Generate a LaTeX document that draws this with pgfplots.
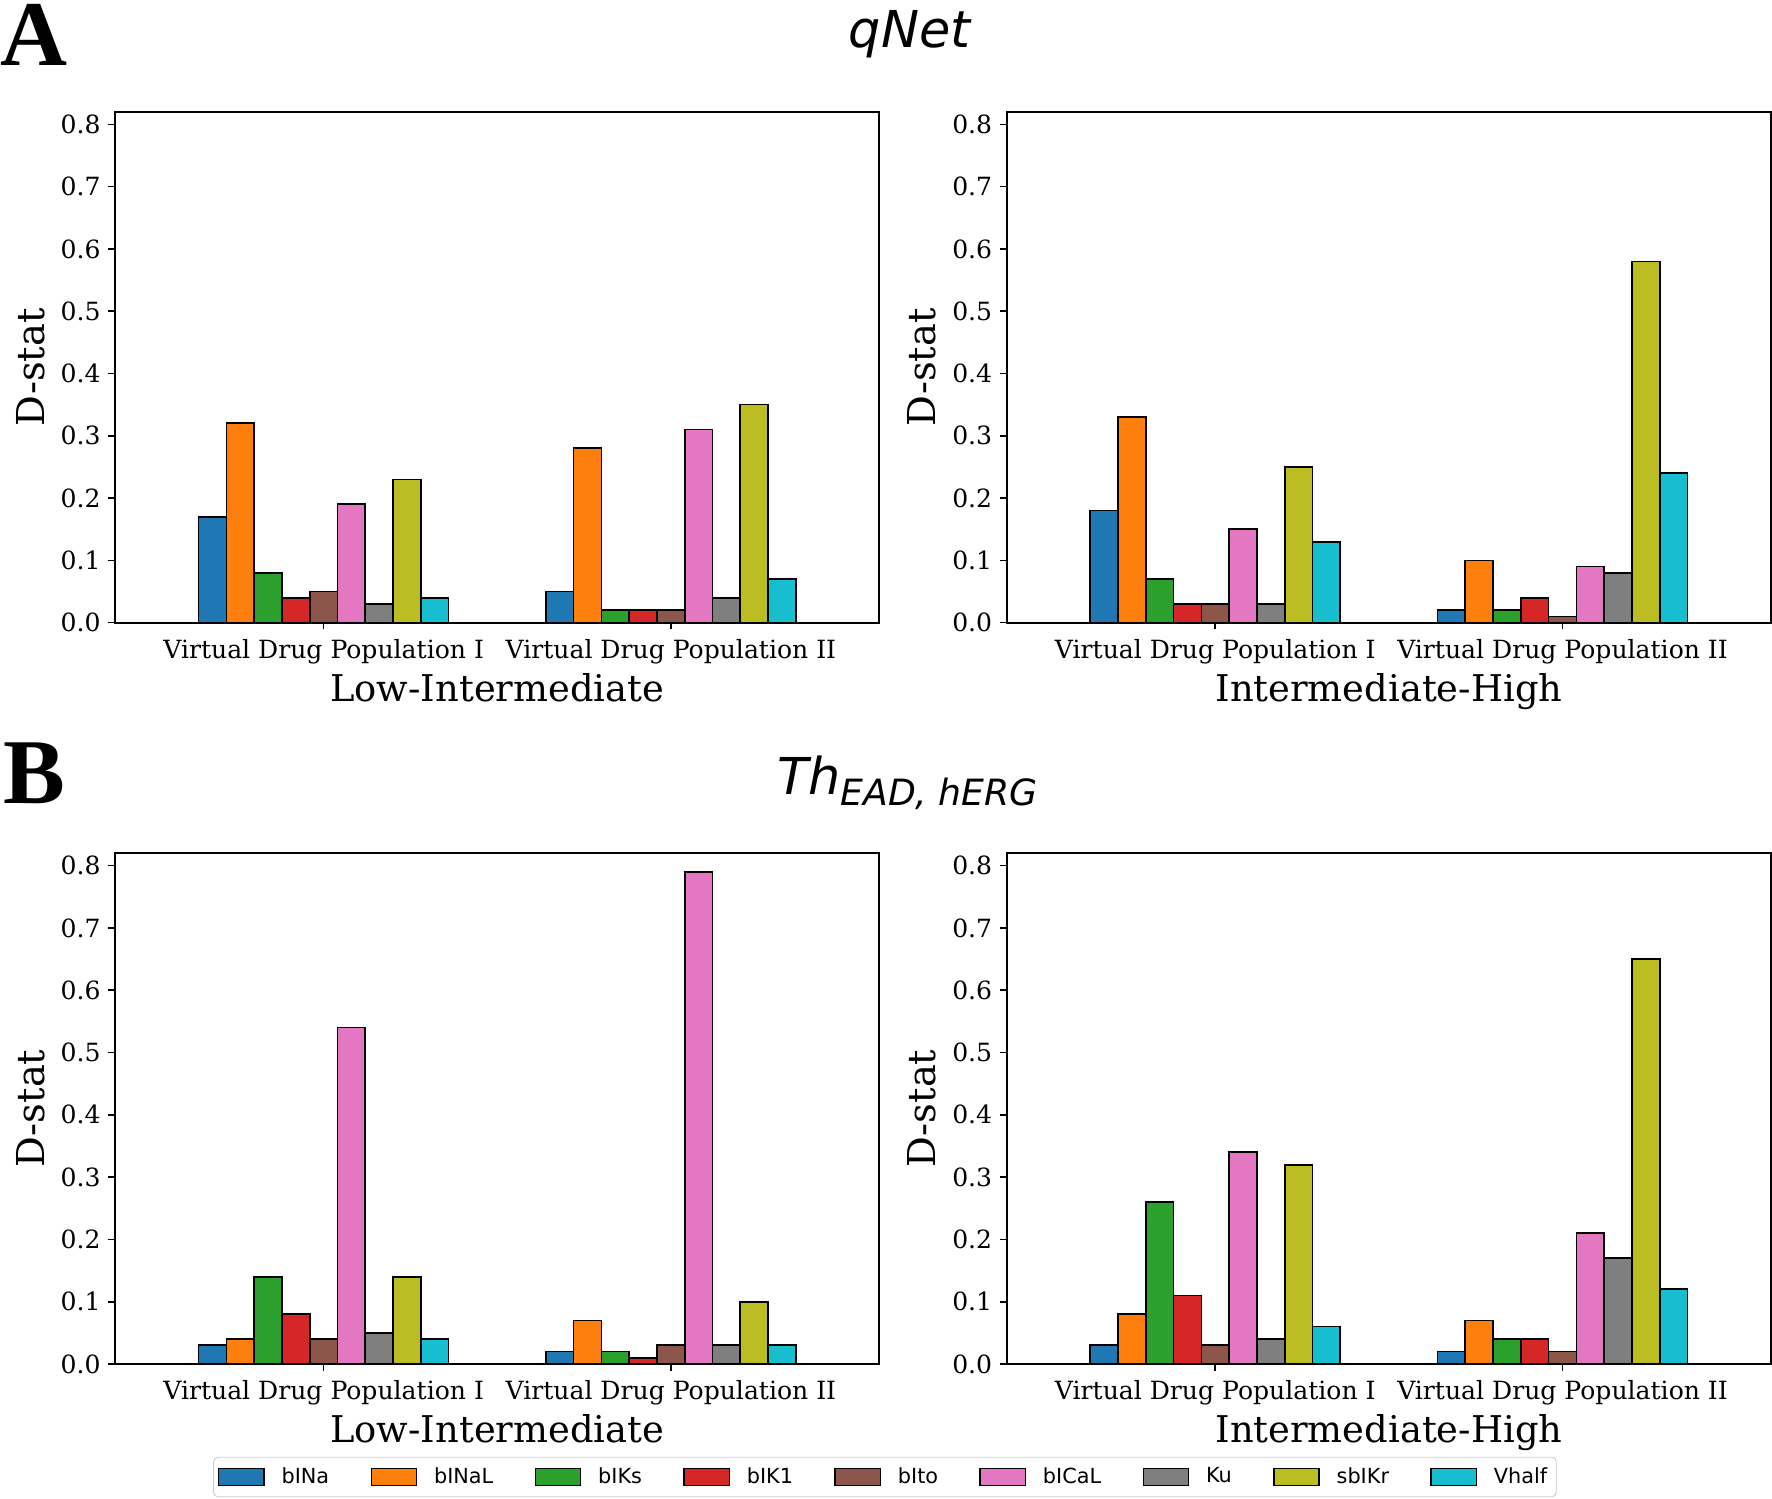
\documentclass[border=0pt]{standalone}
\usepackage{pgfplots}
\pgfplotsset{compat=1.18}
\usepackage{pgfplotstable}
\usepackage{fontspec}
\setmainfont{DejaVu Serif}
\newfontfamily\panelfont{Liberation Serif}
\newfontfamily\titlefont{DejaVu Sans}
\newfontfamily\legfont{DejaVu Sans}

\definecolor{c1}{HTML}{1F77B4}
\definecolor{c2}{HTML}{FF7F0E}
\definecolor{c3}{HTML}{2CA02C}
\definecolor{c4}{HTML}{D62728}
\definecolor{c5}{HTML}{8C564B}
\definecolor{c6}{HTML}{E377C2}
\definecolor{c7}{HTML}{7F7F7F}
\definecolor{c8}{HTML}{BCBD22}
\definecolor{c9}{HTML}{17BECF}

% qNet, Low-Intermediate
\pgfplotstableread{
x bINa bINaL bIKs bIK1 bIto bICaL Ku sbIKr Vhalf
0 0.17 0.32 0.08 0.04 0.05 0.19 0.03 0.23 0.04
1 0.05 0.28 0.02 0.02 0.02 0.31 0.04 0.35 0.07
}\tAL
% qNet, Intermediate-High
\pgfplotstableread{
x bINa bINaL bIKs bIK1 bIto bICaL Ku sbIKr Vhalf
0 0.18 0.33 0.07 0.03 0.03 0.15 0.03 0.25 0.13
1 0.02 0.10 0.02 0.04 0.01 0.09 0.08 0.58 0.24
}\tAR
% Th EAD hERG, Low-Intermediate
\pgfplotstableread{
x bINa bINaL bIKs bIK1 bIto bICaL Ku sbIKr Vhalf
0 0.03 0.04 0.14 0.08 0.04 0.54 0.05 0.14 0.04
1 0.02 0.07 0.02 0.01 0.03 0.79 0.03 0.10 0.03
}\tBL
% Th EAD hERG, Intermediate-High
\pgfplotstableread{
x bINa bINaL bIKs bIK1 bIto bICaL Ku sbIKr Vhalf
0 0.03 0.08 0.26 0.11 0.03 0.34 0.04 0.32 0.06
1 0.02 0.07 0.04 0.04 0.02 0.21 0.17 0.65 0.12
}\tBR

\newcommand\drawbars[1]{%
  \addplot[fill=c1, bar shift=-0.32] table[x=x,y=bINa]{#1};
  \addplot[fill=c2, bar shift=-0.24] table[x=x,y=bINaL]{#1};
  \addplot[fill=c3, bar shift=-0.16] table[x=x,y=bIKs]{#1};
  \addplot[fill=c4, bar shift=-0.08] table[x=x,y=bIK1]{#1};
  \addplot[fill=c5, bar shift=0] table[x=x,y=bIto]{#1};
  \addplot[fill=c6, bar shift=0.08] table[x=x,y=bICaL]{#1};
  \addplot[fill=c7, bar shift=0.16] table[x=x,y=Ku]{#1};
  \addplot[fill=c8, bar shift=0.24] table[x=x,y=sbIKr]{#1};
  \addplot[fill=c9, bar shift=0.32] table[x=x,y=Vhalf]{#1};
}

\pgfplotsset{
  panel/.style={
    scale only axis, width=338pt, height=226pt,
    anchor=south west,
    ybar, bar width=0.08,
    xmin=-0.6, xmax=1.6, ymin=0, ymax=0.82,
    xtick={0,1},
    xticklabels={Virtual Drug Population I, Virtual Drug Population II},
    ytick={0,0.1,0.2,0.3,0.4,0.5,0.6,0.7,0.8},
    yticklabel style={/pgf/number format/.cd, fixed, fixed zerofill, precision=1},
    /pgf/number format/assume math mode=true,
    tick label style={font=\fontsize{11.1}{13}\selectfont},
    xticklabel style={text height=8.1pt, inner ysep=4.6pt},
    tick align=outside, tick pos=left,
    major tick length=3pt,
    axis line style={line width=0.8pt},
    every tick/.style={black, line width=0.7pt},
    ylabel={D-stat},
    ylabel style={font=\fontsize{17}{20}\selectfont, at={(axis description cs:-0.111,0.5)}, anchor=center},
    xlabel style={font=\fontsize{16.3}{19}\selectfont, at={(axis description cs:0.5,-0.154)}, anchor=base},
    every axis plot/.append style={draw=black, line width=0.75pt},
    legend image code/.code={\draw[#1, draw=black, line width=0.6pt, sharp corners] (0pt,-3.7pt) rectangle (20pt,3.7pt);},
  }
}

\begin{document}
\begin{tikzpicture}
\useasboundingbox (0,0) rectangle (784pt,663pt);

\node[anchor=base west, inner sep=0pt, font=\panelfont\bfseries\fontsize{41}{45}\selectfont] at (0pt,634pt) {A};
\node[anchor=base west, inner sep=0pt, font=\panelfont\bfseries\fontsize{41}{45}\selectfont] at (1.5pt,307.5pt) {B};
\node[anchor=base, inner sep=0pt, font=\titlefont\itshape\fontsize{22.5}{26}\selectfont] at (402.5pt,642pt) {qNet};
\node[anchor=base, inner sep=0pt, font=\titlefont\itshape\fontsize{22.5}{26}\selectfont] at (401.5pt,311.5pt) {Th\raisebox{-5pt}{\fontsize{16}{18}\selectfont EAD, hERG}};

\begin{axis}[panel, at={(51pt,387.5pt)}, xlabel={Low-Intermediate}]
\drawbars{\tAL}
\end{axis}
\begin{axis}[panel, at={(445.5pt,387.5pt)}, xlabel={Intermediate-High}]
\drawbars{\tAR}
\end{axis}
\begin{axis}[panel, at={(51pt,59.5pt)}, xlabel={Low-Intermediate},
  legend columns=9,
  legend style={at={(1.0074,-0.2212)}, anchor=center, draw=black!20, rounded corners=2pt,
    font=\legfont\fontsize{9.2}{11}\selectfont, inner xsep=2pt, inner ysep=2.5pt,
    /tikz/every odd column/.append style={column sep=5.5pt},
    /tikz/every even column/.append style={column sep=16.3pt}},
  legend cell align=left]
\drawbars{\tBL}
\legend{bINa,bINaL,bIKs,bIK1,bIto,bICaL,Ku,sbIKr,Vhalf}
\end{axis}
\begin{axis}[panel, at={(445.5pt,59.5pt)}, xlabel={Intermediate-High}]
\drawbars{\tBR}
\end{axis}
\end{tikzpicture}
\end{document}
